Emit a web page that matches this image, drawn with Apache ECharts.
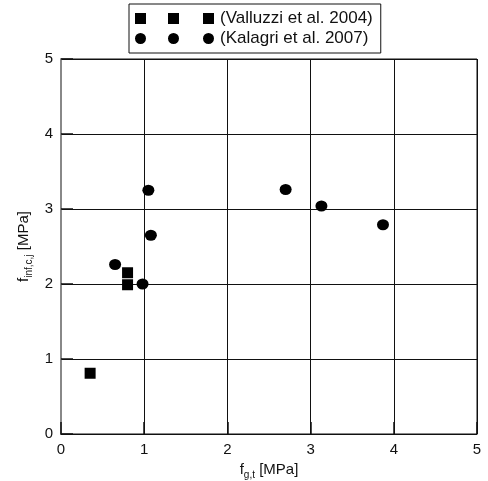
<!DOCTYPE html>
<html>
<head>
<meta charset="utf-8">
<script src="https://cdn.jsdelivr.net/npm/echarts@6/dist/echarts.min.js"></script>
<style>
  html, body { margin: 0; padding: 0; background: #fff; }
  #chart { width: 488px; height: 481px; }
</style>
</head>
<body>
<div id="chart"></div>
<script>
// Tensile strength of the grout (x) vs. infill strength (y), MPa
const valluzziX = [0.35, 0.80, 0.80];
const valluzziY = [0.81, 2.15, 1.99];
const kalagriX = [1.05, 1.08, 0.65, 0.98, 2.70, 3.13, 3.87];
const kalagriY = [3.25, 2.65, 2.26, 2.00, 3.26, 3.04, 2.79];
const seriesNames = ['(Valluzzi et al. 2004)', '(Kalagri et al. 2007)'];
const axisTicks = [0, 1, 2, 3, 4, 5];

const pairs = (xs, ys) => xs.map((x, i) => [x, ys[i]]);
const FONT = 'Liberation Sans, Arial, sans-serif';

const chart = echarts.init(document.getElementById('chart'), null, { renderer: 'canvas' });

const nameRich = {
  n: { fontSize: 15, fontFamily: FONT, color: '#111', lineHeight: 20, verticalAlign: 'middle' },
  s: { fontSize: 10, fontFamily: FONT, color: '#111', lineHeight: 20, verticalAlign: 'bottom', padding: [8, 0, 0, 0] }
};

const axisCommon = {
  min: axisTicks[0],
  max: axisTicks[axisTicks.length - 1],
  interval: 1,
  splitLine: { show: true, lineStyle: { color: '#111', width: 1 } },
  axisTick: { show: true, inside: true, length: 12, lineStyle: { color: '#111', width: 1.5 } },
  axisLabel: { color: '#111', fontSize: 15, fontFamily: FONT },
  nameLocation: 'middle',
  nameTextStyle: { rich: nameRich }
};

// three markers side by side form each legend icon
const squareIcon = 'path://M0,0h11v11h-11z M33,0h11v11h-11z M68,0h11v11h-11z';
const circleIcon = 'path://M0,5.5a5.5,5.5 0 1,0 11,0a5.5,5.5 0 1,0 -11,0z M33,5.5a5.5,5.5 0 1,0 11,0a5.5,5.5 0 1,0 -11,0z M68,5.5a5.5,5.5 0 1,0 11,0a5.5,5.5 0 1,0 -11,0z';

chart.setOption({
  animation: false,
  backgroundColor: '#fff',
  grid: {
    left: 61, right: 11, top: 59, bottom: 47,
    outerBoundsMode: 'none', containLabel: false,
    show: true, borderColor: '#111', borderWidth: 1
  },
  legend: {
    show: true,
    left: 129,
    top: 4,
    orient: 'vertical',
    itemGap: 3,
    padding: [6, 8, 6, 6],
    borderColor: '#111',
    borderWidth: 1,
    itemWidth: 79,
    itemHeight: 11,
    textStyle: { color: '#111', fontSize: 17, fontFamily: FONT, padding: [0, 0, 0, 1] },
    data: [
      { name: seriesNames[0], icon: squareIcon },
      { name: seriesNames[1], icon: circleIcon }
    ]
  },
  xAxis: Object.assign({}, axisCommon, {
    type: 'value',
    name: '{n|f}{s|g,t}{n| [MPa]}',
    nameGap: 25,
    axisLine: { show: true, lineStyle: { color: '#111', width: 1 } },
    axisLabel: Object.assign({}, axisCommon.axisLabel, { margin: 8 })
  }),
  yAxis: Object.assign({}, axisCommon, {
    type: 'value',
    name: '{n|f}{s|inf,c,j}{n| [MPa]}',
    nameGap: 26,
    nameRotate: 90,
    axisLine: { show: true, lineStyle: { color: '#888', width: 2 } },
    axisLabel: Object.assign({}, axisCommon.axisLabel, { margin: 8 })
  }),
  series: [
    {
      name: seriesNames[0],
      type: 'scatter',
      symbol: 'rect',
      symbolSize: 11,
      itemStyle: { color: '#000', opacity: 1 },
      data: pairs(valluzziX, valluzziY)
    },
    {
      name: seriesNames[1],
      type: 'scatter',
      symbol: 'circle',
      symbolSize: [12, 11],
      itemStyle: { color: '#000', opacity: 1 },
      data: pairs(kalagriX, kalagriY)
    }
  ]
});
</script>
</body>
</html>
